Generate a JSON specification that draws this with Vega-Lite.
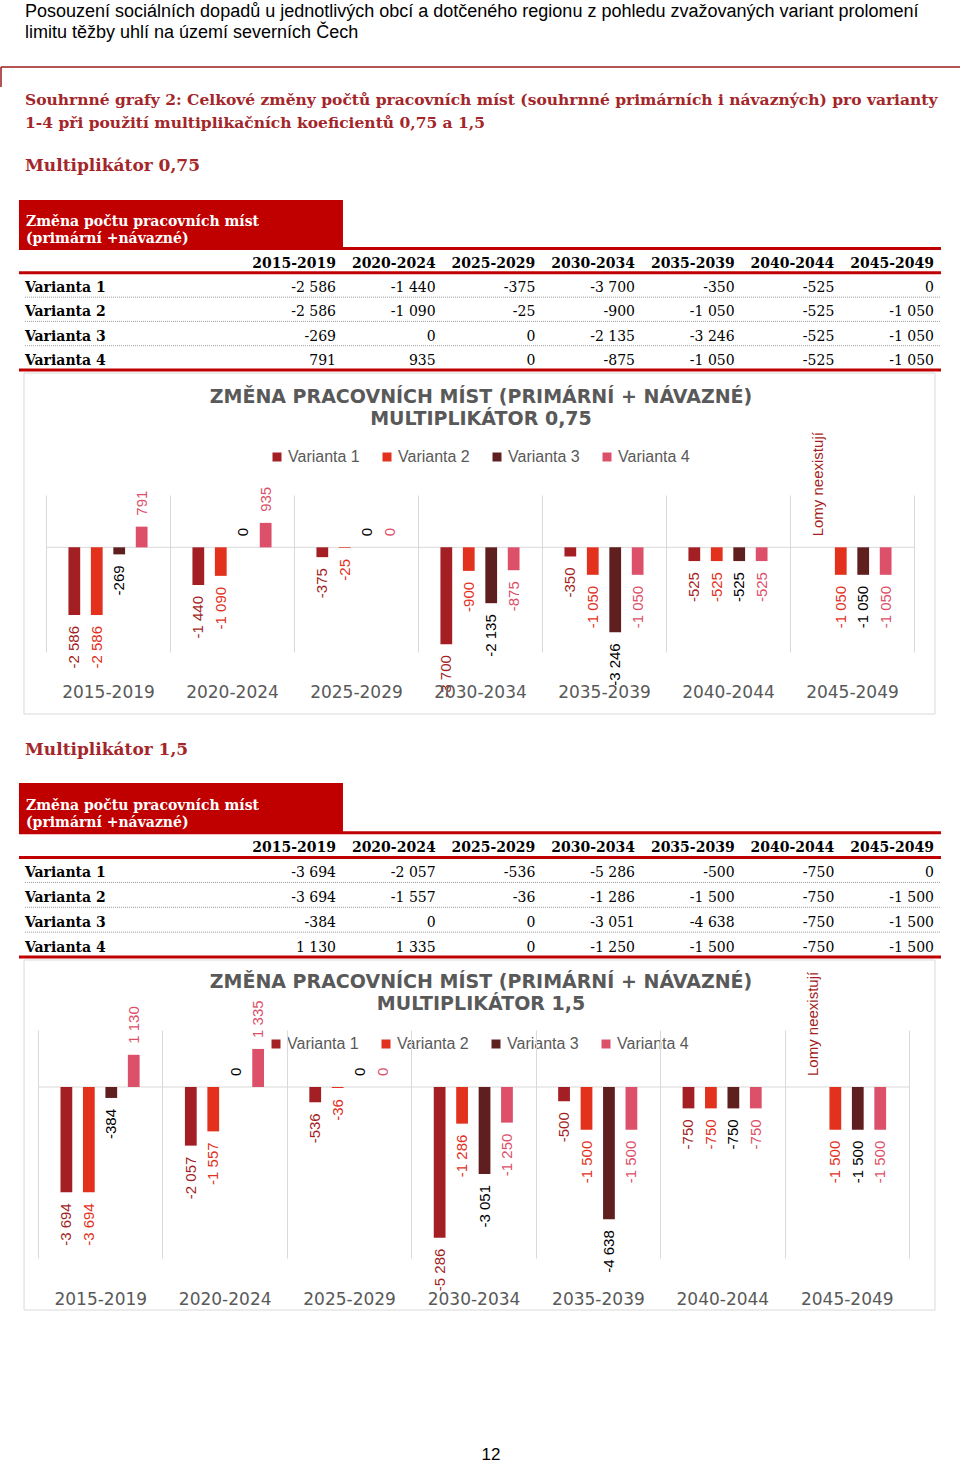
{
  "$schema": "https://vega.github.io/schema/vega-lite/v6.json",
  "padding": {"top": 3, "left": 0, "right": 0, "bottom": 0},
  "bounds": "flush",
  "spacing": 0,
  "config": {
    "view": {"stroke": null},
    "locale": {"number": {"decimal": ",", "thousands": " ", "grouping": [3], "currency": ["", " Kč"], "minus": "-"}},
    "font": "Liberation Sans"
  },
  "datasets": {
    "jobs": [
      {"m": "0,75", "period": "2015-2019", "variant": "Varianta 1", "value": -2586},
      {"m": "0,75", "period": "2020-2024", "variant": "Varianta 1", "value": -1440},
      {"m": "0,75", "period": "2025-2029", "variant": "Varianta 1", "value": -375},
      {"m": "0,75", "period": "2030-2034", "variant": "Varianta 1", "value": -3700},
      {"m": "0,75", "period": "2035-2039", "variant": "Varianta 1", "value": -350},
      {"m": "0,75", "period": "2040-2044", "variant": "Varianta 1", "value": -525},
      {"m": "0,75", "period": "2045-2049", "variant": "Varianta 1", "value": 0, "note": "Lomy neexistují"},
      {"m": "0,75", "period": "2015-2019", "variant": "Varianta 2", "value": -2586},
      {"m": "0,75", "period": "2020-2024", "variant": "Varianta 2", "value": -1090},
      {"m": "0,75", "period": "2025-2029", "variant": "Varianta 2", "value": -25},
      {"m": "0,75", "period": "2030-2034", "variant": "Varianta 2", "value": -900},
      {"m": "0,75", "period": "2035-2039", "variant": "Varianta 2", "value": -1050},
      {"m": "0,75", "period": "2040-2044", "variant": "Varianta 2", "value": -525},
      {"m": "0,75", "period": "2045-2049", "variant": "Varianta 2", "value": -1050},
      {"m": "0,75", "period": "2015-2019", "variant": "Varianta 3", "value": -269},
      {"m": "0,75", "period": "2020-2024", "variant": "Varianta 3", "value": 0},
      {"m": "0,75", "period": "2025-2029", "variant": "Varianta 3", "value": 0},
      {"m": "0,75", "period": "2030-2034", "variant": "Varianta 3", "value": -2135},
      {"m": "0,75", "period": "2035-2039", "variant": "Varianta 3", "value": -3246},
      {"m": "0,75", "period": "2040-2044", "variant": "Varianta 3", "value": -525},
      {"m": "0,75", "period": "2045-2049", "variant": "Varianta 3", "value": -1050},
      {"m": "0,75", "period": "2015-2019", "variant": "Varianta 4", "value": 791},
      {"m": "0,75", "period": "2020-2024", "variant": "Varianta 4", "value": 935},
      {"m": "0,75", "period": "2025-2029", "variant": "Varianta 4", "value": 0},
      {"m": "0,75", "period": "2030-2034", "variant": "Varianta 4", "value": -875},
      {"m": "0,75", "period": "2035-2039", "variant": "Varianta 4", "value": -1050},
      {"m": "0,75", "period": "2040-2044", "variant": "Varianta 4", "value": -525},
      {"m": "0,75", "period": "2045-2049", "variant": "Varianta 4", "value": -1050},
      {"m": "1,5", "period": "2015-2019", "variant": "Varianta 1", "value": -3694},
      {"m": "1,5", "period": "2020-2024", "variant": "Varianta 1", "value": -2057},
      {"m": "1,5", "period": "2025-2029", "variant": "Varianta 1", "value": -536},
      {"m": "1,5", "period": "2030-2034", "variant": "Varianta 1", "value": -5286},
      {"m": "1,5", "period": "2035-2039", "variant": "Varianta 1", "value": -500},
      {"m": "1,5", "period": "2040-2044", "variant": "Varianta 1", "value": -750},
      {"m": "1,5", "period": "2045-2049", "variant": "Varianta 1", "value": 0, "note": "Lomy neexistují"},
      {"m": "1,5", "period": "2015-2019", "variant": "Varianta 2", "value": -3694},
      {"m": "1,5", "period": "2020-2024", "variant": "Varianta 2", "value": -1557},
      {"m": "1,5", "period": "2025-2029", "variant": "Varianta 2", "value": -36},
      {"m": "1,5", "period": "2030-2034", "variant": "Varianta 2", "value": -1286},
      {"m": "1,5", "period": "2035-2039", "variant": "Varianta 2", "value": -1500},
      {"m": "1,5", "period": "2040-2044", "variant": "Varianta 2", "value": -750},
      {"m": "1,5", "period": "2045-2049", "variant": "Varianta 2", "value": -1500},
      {"m": "1,5", "period": "2015-2019", "variant": "Varianta 3", "value": -384},
      {"m": "1,5", "period": "2020-2024", "variant": "Varianta 3", "value": 0},
      {"m": "1,5", "period": "2025-2029", "variant": "Varianta 3", "value": 0},
      {"m": "1,5", "period": "2030-2034", "variant": "Varianta 3", "value": -3051},
      {"m": "1,5", "period": "2035-2039", "variant": "Varianta 3", "value": -4638},
      {"m": "1,5", "period": "2040-2044", "variant": "Varianta 3", "value": -750},
      {"m": "1,5", "period": "2045-2049", "variant": "Varianta 3", "value": -1500},
      {"m": "1,5", "period": "2015-2019", "variant": "Varianta 4", "value": 1130},
      {"m": "1,5", "period": "2020-2024", "variant": "Varianta 4", "value": 1335},
      {"m": "1,5", "period": "2025-2029", "variant": "Varianta 4", "value": 0},
      {"m": "1,5", "period": "2030-2034", "variant": "Varianta 4", "value": -1250},
      {"m": "1,5", "period": "2035-2039", "variant": "Varianta 4", "value": -1500},
      {"m": "1,5", "period": "2040-2044", "variant": "Varianta 4", "value": -750},
      {"m": "1,5", "period": "2045-2049", "variant": "Varianta 4", "value": -1500}
    ]
  },
  "vconcat": [
    {
      "width": 960, "height": 133,
      "title": {"text": ["Posouzení sociálních dopadů u jednotlivých obcí a dotčeného regionu z pohledu zvažovaných variant prolomení", "limitu těžby uhlí na území severních Čech"], "anchor": "start", "frame": "group", "dx": 24, "offset": 24, "font": "Liberation Sans", "fontSize": 18, "fontWeight": "normal", "color": "#000000", "lineHeight": 21},
      "data": {"values": [{}]},
      "layer": [
        {"mark": {"type": "rule", "color": "#9B1C1C", "strokeWidth": 1.5},
         "encoding": {"y": {"datum": 1, "scale": {"domain": [0, 1]}, "axis": null}}},
        {"mark": {"type": "rule", "color": "#9B1C1C", "strokeWidth": 1.5},
         "encoding": {"x": {"datum": 0, "scale": {"domain": [0, 1]}, "axis": null}, "y": {"datum": 1, "scale": {"domain": [0, 1]}, "axis": null}, "y2": {"datum": 0.85}}}
      ]
    },
    {
      "width": 960, "height": 170,
      "title": {"text": ["Souhrnné grafy 2: Celkové změny počtů pracovních míst (souhrnné primárních i návazných) pro varianty", "1-4 při použití multiplikačních koeficientů 0,75 a 1,5"], "subtitle": "Multiplikátor 0,75", "anchor": "start", "frame": "group", "dx": 24, "offset": 26, "font": "DejaVu Serif", "fontSize": 15.5, "fontWeight": "bold", "color": "#A3262A", "lineHeight": 23, "subtitleFont": "DejaVu Serif", "subtitleFontSize": 17, "subtitleFontWeight": "bold", "subtitleColor": "#A3262A", "subtitlePadding": 27},
      "layer": [
        {"data": {"values": [{}]},
         "mark": {"type": "rect", "color": "#C00000", "xOffset": -18, "x2Offset": 7},
         "encoding": {
           "x": {"datum": "_lbl", "bandPosition": 0, "scale": {"type": "band", "domain": ["_lbl", "_lbl2", "2015-2019", "2020-2024", "2025-2029", "2030-2034", "2035-2039", "2040-2044", "2045-2049"], "paddingInner": 0, "paddingOuter": 0.316, "align": 0.571}, "axis": null},
           "x2": {"datum": "2015-2019", "bandPosition": 1},
           "y": {"datum": "t1", "bandPosition": 0, "scale": {"type": "band", "domain": ["t1", "t2", "hdr", "Varianta 1", "Varianta 2", "Varianta 3", "Varianta 4"], "paddingInner": 0, "paddingOuter": 0}, "axis": null},
           "y2": {"datum": "t2", "bandPosition": 1}}},
        {"data": {"values": [{}]},
         "mark": {"type": "rule", "color": "#C00000", "strokeWidth": 3, "xOffset": -18, "x2Offset": 7},
         "encoding": {"x": {"datum": "_lbl", "bandPosition": 0}, "x2": {"datum": "2045-2049", "bandPosition": 1}, "y": {"datum": "hdr", "bandPosition": 0}}},
        {"data": {"values": [{}]},
         "mark": {"type": "text", "text": ["Změna počtu pracovních míst", "(primární +návazné)"], "font": "DejaVu Serif", "fontSize": 14, "fontWeight": "bold", "color": "#FFFFFF", "align": "left", "baseline": "middle", "dx": -11, "dy": -2, "lineHeight": 17},
         "encoding": {"x": {"datum": "_lbl", "bandPosition": 0}, "y": {"datum": "t2", "bandPosition": 0}}},
        {"data": {"values": [{}]},
         "mark": {"type": "rule", "color": "#C00000", "strokeWidth": 3, "xOffset": -18, "x2Offset": 7},
         "encoding": {"x": {"datum": "_lbl", "bandPosition": 0}, "x2": {"datum": "2045-2049", "bandPosition": 1}, "y": {"datum": "Varianta 1", "bandPosition": 0}}},
        {"data": {"values": [{}]},
         "mark": {"type": "rule", "color": "#C00000", "strokeWidth": 3, "xOffset": -18, "x2Offset": 7},
         "encoding": {"x": {"datum": "_lbl", "bandPosition": 0}, "x2": {"datum": "2045-2049", "bandPosition": 1}, "y": {"datum": "Varianta 4", "bandPosition": 1}}},
        {"data": {"name": "jobs"},
         "transform": [{"filter": "datum.m == '0,75' && datum.period == '2015-2019' && datum.variant != 'Varianta 1'"}],
         "mark": {"type": "rule", "color": "#9A9A9A", "strokeWidth": 1, "strokeDash": [1, 1], "xOffset": -12, "x2Offset": 7},
         "encoding": {"x": {"datum": "_lbl", "bandPosition": 0}, "x2": {"datum": "2045-2049", "bandPosition": 1}, "y": {"field": "variant", "bandPosition": 0}}},
        {"data": {"name": "jobs"},
         "transform": [{"filter": "datum.m == '0,75' && datum.variant == 'Varianta 1'"}],
         "mark": {"type": "text", "font": "DejaVu Serif", "fontSize": 14, "fontWeight": "bold", "color": "#000000", "align": "right", "baseline": "middle", "dy": 3},
         "encoding": {"x": {"field": "period", "bandPosition": 1}, "y": {"datum": "hdr"}, "text": {"field": "period"}}},
        {"data": {"name": "jobs"},
         "transform": [{"filter": "datum.m == '0,75'"}],
         "mark": {"type": "text", "font": "DejaVu Serif", "fontSize": 14, "color": "#000000", "align": "right", "baseline": "middle", "dy": 3},
         "encoding": {"x": {"field": "period", "bandPosition": 1}, "y": {"field": "variant"}, "text": {"field": "value", "type": "quantitative", "format": ",d"}}},
        {"data": {"name": "jobs"},
         "transform": [{"filter": "datum.m == '0,75' && datum.period == '2015-2019'"}],
         "mark": {"type": "text", "font": "DejaVu Serif", "fontSize": 14, "fontWeight": "bold", "color": "#000000", "align": "left", "baseline": "middle", "dx": -12, "dy": 3},
         "encoding": {"x": {"datum": "_lbl", "bandPosition": 0}, "y": {"field": "variant"}, "text": {"field": "variant"}}}
      ]
    },
    {
      "width": 960, "height": 125,
      "data": {"values": []},
      "mark": "point"
    },
    {
      "width": 960, "height": 157,
      "title": {"text": ["ZMĚNA PRACOVNÍCH MÍST (PRIMÁRNÍ + NÁVAZNÉ)", "MULTIPLIKÁTOR 0,75"], "anchor": "middle", "frame": "group", "offset": -56, "font": "DejaVu Sans", "fontSize": 19, "fontWeight": "bold", "color": "#595959", "lineHeight": 22},
      "data": {"name": "jobs"},
      "transform": [{"filter": "datum.m == '0,75'"}],
      "resolve": {"scale": {"color": "independent"}},
      "layer": [
        {"transform": [{"aggregate": [{"op": "count", "as": "n"}]}],
         "mark": {"type": "rect", "filled": false, "stroke": "#D9D9D9", "strokeWidth": 1, "xOffset": -22, "x2Offset": 21, "yOffset": -122, "y2Offset": 62},
         "encoding": {
           "x": {"datum": "2015-2019", "bandPosition": 0, "scale": {"type": "band", "domain": ["2015-2019", "2020-2024", "2025-2029", "2030-2034", "2035-2039", "2040-2044", "2045-2049"], "paddingInner": 0, "paddingOuter": 0.371, "align": 0.489}},
           "x2": {"datum": "2045-2049", "bandPosition": 1},
           "y": {"datum": 2000, "scale": {"domain": [-4000, 2000], "nice": false}, "axis": null},
           "y2": {"datum": -4000}}},
        {"transform": [{"aggregate": [{"op": "count", "as": "n"}]}],
         "mark": {"type": "rule", "color": "#D9D9D9", "strokeWidth": 1},
         "encoding": {
           "x": {"datum": "2015-2019", "bandPosition": 0},
           "x2": {"datum": "2045-2049", "bandPosition": 1},
           "y": {"datum": 0, "axis": null}}},
        {"mark": {"type": "bar"},
         "encoding": {
           "x": {"field": "period", "type": "nominal", "scale": {"type": "band", "domain": ["2015-2019", "2020-2024", "2025-2029", "2030-2034", "2035-2039", "2040-2044", "2045-2049"], "paddingInner": 0, "paddingOuter": 0.371, "align": 0.489},
                 "axis": {"title": null, "orient": "bottom", "domain": false, "ticks": false, "grid": true, "tickBand": "extent", "gridColor": "#D9D9D9", "labelFont": "DejaVu Sans", "labelFontSize": 17, "labelColor": "#595959", "labelPadding": 40, "labelAngle": 0, "labelAlign": "center"}},
           "xOffset": {"field": "variant", "type": "nominal", "scale": {"type": "band", "domain": ["Varianta 1", "Varianta 2", "Varianta 3", "Varianta 4"], "paddingInner": 0.476, "paddingOuter": 1.19}},
           "y": {"field": "value", "type": "quantitative", "scale": {"domain": [-4000, 2000], "nice": false}, "axis": null},
           "color": {"field": "variant", "type": "nominal", "scale": {"domain": ["Varianta 1", "Varianta 2", "Varianta 3", "Varianta 4"], "range": ["#A31F24", "#E2311D", "#5E1F1E", "#DC5069"]},
                     "legend": {"title": null, "orient": "none", "legendX": 268, "legendY": -46, "direction": "horizontal", "symbolType": "square", "symbolSize": 81, "symbolStrokeWidth": 0, "labelFont": "Liberation Sans", "labelFontSize": 16, "labelColor": "#595959", "labelOffset": 3, "columnPadding": 19, "padding": 0}}}},
        {"transform": [{"filter": "datum.value < 0"}],
         "mark": {"type": "text", "angle": 270, "align": "right", "baseline": "middle", "dx": -11, "font": "Liberation Sans", "fontSize": 15},
         "encoding": {
           "x": {"field": "period", "type": "nominal", "scale": {"type": "band"}},
           "xOffset": {"field": "variant", "type": "nominal", "scale": {"type": "band"}},
           "y": {"field": "value", "type": "quantitative", "axis": null},
           "text": {"field": "value", "type": "quantitative", "format": ",d"},
           "color": {"field": "variant", "type": "nominal", "scale": {"domain": ["Varianta 1", "Varianta 2", "Varianta 3", "Varianta 4"], "range": ["#A31F24", "#E2311D", "#000000", "#DC5069"]}, "legend": null}}},
        {"transform": [{"filter": "datum.value >= 0 && !datum.note"}],
         "mark": {"type": "text", "angle": 270, "align": "left", "baseline": "middle", "dx": 11, "font": "Liberation Sans", "fontSize": 15},
         "encoding": {
           "x": {"field": "period", "type": "nominal", "scale": {"type": "band"}},
           "xOffset": {"field": "variant", "type": "nominal", "scale": {"type": "band"}},
           "y": {"field": "value", "type": "quantitative", "axis": null},
           "text": {"field": "value", "type": "quantitative", "format": ",d"},
           "color": {"field": "variant", "type": "nominal", "scale": {"domain": ["Varianta 1", "Varianta 2", "Varianta 3", "Varianta 4"], "range": ["#A31F24", "#E2311D", "#000000", "#DC5069"]}, "legend": null}}},
        {"transform": [{"filter": "datum.note"}],
         "mark": {"type": "text", "angle": 270, "align": "left", "baseline": "middle", "dx": 11, "font": "Liberation Sans", "fontSize": 15},
         "encoding": {
           "x": {"field": "period", "type": "nominal", "scale": {"type": "band"}},
           "xOffset": {"field": "variant", "type": "nominal", "scale": {"type": "band"}},
           "y": {"field": "value", "type": "quantitative", "axis": null},
           "text": {"field": "note"},
           "color": {"field": "variant", "type": "nominal", "scale": {"domain": ["Varianta 1", "Varianta 2", "Varianta 3", "Varianta 4"], "range": ["#A31F24", "#E2311D", "#000000", "#DC5069"]}, "legend": null}}}
      ]
    },
    {
      "width": 960, "height": 131,
      "data": {"values": []},
      "mark": "point"
    },
    {
      "width": 960, "height": 174,
      "title": {"text": "Multiplikátor 1,5", "anchor": "start", "frame": "group", "dx": 24, "offset": 24, "font": "DejaVu Serif", "fontSize": 17, "fontWeight": "bold", "color": "#A3262A"},
      "layer": [
        {"data": {"values": [{}]},
         "mark": {"type": "rect", "color": "#C00000", "xOffset": -18, "x2Offset": 7},
         "encoding": {
           "x": {"datum": "_lbl", "bandPosition": 0, "scale": {"type": "band", "domain": ["_lbl", "_lbl2", "2015-2019", "2020-2024", "2025-2029", "2030-2034", "2035-2039", "2040-2044", "2045-2049"], "paddingInner": 0, "paddingOuter": 0.316, "align": 0.571}, "axis": null},
           "x2": {"datum": "2015-2019", "bandPosition": 1},
           "y": {"datum": "t1", "bandPosition": 0, "scale": {"type": "band", "domain": ["t1", "t2", "hdr", "Varianta 1", "Varianta 2", "Varianta 3", "Varianta 4"], "paddingInner": 0, "paddingOuter": 0}, "axis": null},
           "y2": {"datum": "t2", "bandPosition": 1}}},
        {"data": {"values": [{}]},
         "mark": {"type": "rule", "color": "#C00000", "strokeWidth": 3, "xOffset": -18, "x2Offset": 7},
         "encoding": {"x": {"datum": "_lbl", "bandPosition": 0}, "x2": {"datum": "2045-2049", "bandPosition": 1}, "y": {"datum": "hdr", "bandPosition": 0}}},
        {"data": {"values": [{}]},
         "mark": {"type": "text", "text": ["Změna počtu pracovních míst", "(primární +návazné)"], "font": "DejaVu Serif", "fontSize": 14, "fontWeight": "bold", "color": "#FFFFFF", "align": "left", "baseline": "middle", "dx": -11, "dy": -2, "lineHeight": 17},
         "encoding": {"x": {"datum": "_lbl", "bandPosition": 0}, "y": {"datum": "t2", "bandPosition": 0}}},
        {"data": {"values": [{}]},
         "mark": {"type": "rule", "color": "#C00000", "strokeWidth": 3, "xOffset": -18, "x2Offset": 7},
         "encoding": {"x": {"datum": "_lbl", "bandPosition": 0}, "x2": {"datum": "2045-2049", "bandPosition": 1}, "y": {"datum": "Varianta 1", "bandPosition": 0}}},
        {"data": {"values": [{}]},
         "mark": {"type": "rule", "color": "#C00000", "strokeWidth": 3, "xOffset": -18, "x2Offset": 7},
         "encoding": {"x": {"datum": "_lbl", "bandPosition": 0}, "x2": {"datum": "2045-2049", "bandPosition": 1}, "y": {"datum": "Varianta 4", "bandPosition": 1}}},
        {"data": {"name": "jobs"},
         "transform": [{"filter": "datum.m == '1,5' && datum.period == '2015-2019' && datum.variant != 'Varianta 1'"}],
         "mark": {"type": "rule", "color": "#9A9A9A", "strokeWidth": 1, "strokeDash": [1, 1], "xOffset": -12, "x2Offset": 7},
         "encoding": {"x": {"datum": "_lbl", "bandPosition": 0}, "x2": {"datum": "2045-2049", "bandPosition": 1}, "y": {"field": "variant", "bandPosition": 0}}},
        {"data": {"name": "jobs"},
         "transform": [{"filter": "datum.m == '1,5' && datum.variant == 'Varianta 1'"}],
         "mark": {"type": "text", "font": "DejaVu Serif", "fontSize": 14, "fontWeight": "bold", "color": "#000000", "align": "right", "baseline": "middle", "dy": 3},
         "encoding": {"x": {"field": "period", "bandPosition": 1}, "y": {"datum": "hdr"}, "text": {"field": "period"}}},
        {"data": {"name": "jobs"},
         "transform": [{"filter": "datum.m == '1,5'"}],
         "mark": {"type": "text", "font": "DejaVu Serif", "fontSize": 14, "color": "#000000", "align": "right", "baseline": "middle", "dy": 3},
         "encoding": {"x": {"field": "period", "bandPosition": 1}, "y": {"field": "variant"}, "text": {"field": "value", "type": "quantitative", "format": ",d"}}},
        {"data": {"name": "jobs"},
         "transform": [{"filter": "datum.m == '1,5' && datum.period == '2015-2019'"}],
         "mark": {"type": "text", "font": "DejaVu Serif", "fontSize": 14, "fontWeight": "bold", "color": "#000000", "align": "left", "baseline": "middle", "dx": -12, "dy": 3},
         "encoding": {"x": {"datum": "_lbl", "bandPosition": 0}, "y": {"field": "variant"}, "text": {"field": "variant"}}}
      ]
    },
    {
      "width": 960, "height": 73,
      "data": {"values": []},
      "mark": "point"
    },
    {
      "width": 960, "height": 228,
      "title": {"text": ["ZMĚNA PRACOVNÍCH MÍST (PRIMÁRNÍ + NÁVAZNÉ)", "MULTIPLIKÁTOR 1,5"], "anchor": "middle", "frame": "group", "offset": -54, "font": "DejaVu Sans", "fontSize": 19, "fontWeight": "bold", "color": "#595959", "lineHeight": 22},
      "data": {"name": "jobs"},
      "transform": [{"filter": "datum.m == '1,5'"}],
      "resolve": {"scale": {"color": "independent"}},
      "layer": [
        {"transform": [{"aggregate": [{"op": "count", "as": "n"}]}],
         "mark": {"type": "rect", "filled": false, "stroke": "#D9D9D9", "strokeWidth": 1, "xOffset": -14, "x2Offset": 26, "yOffset": -70, "y2Offset": 52},
         "encoding": {
           "x": {"datum": "2015-2019", "bandPosition": 0, "scale": {"type": "band", "domain": ["2015-2019", "2020-2024", "2025-2029", "2030-2034", "2035-2039", "2040-2044", "2045-2049"], "paddingInner": 0, "paddingOuter": 0.358, "align": 0.416}},
           "x2": {"datum": "2045-2049", "bandPosition": 1},
           "y": {"datum": 2000, "scale": {"domain": [-6000, 2000], "nice": false}, "axis": null},
           "y2": {"datum": -6000}}},
        {"transform": [{"aggregate": [{"op": "count", "as": "n"}]}],
         "mark": {"type": "rule", "color": "#D9D9D9", "strokeWidth": 1},
         "encoding": {
           "x": {"datum": "2015-2019", "bandPosition": 0},
           "x2": {"datum": "2045-2049", "bandPosition": 1},
           "y": {"datum": 0, "axis": null}}},
        {"mark": {"type": "bar"},
         "encoding": {
           "x": {"field": "period", "type": "nominal", "scale": {"type": "band", "domain": ["2015-2019", "2020-2024", "2025-2029", "2030-2034", "2035-2039", "2040-2044", "2045-2049"], "paddingInner": 0, "paddingOuter": 0.358, "align": 0.416},
                 "axis": {"title": null, "orient": "bottom", "domain": false, "ticks": false, "grid": true, "tickBand": "extent", "gridColor": "#D9D9D9", "labelFont": "DejaVu Sans", "labelFontSize": 17, "labelColor": "#595959", "labelPadding": 41, "labelAngle": 0, "labelAlign": "center"}},
           "xOffset": {"field": "variant", "type": "nominal", "scale": {"type": "band", "domain": ["Varianta 1", "Varianta 2", "Varianta 3", "Varianta 4"], "paddingInner": 0.476, "paddingOuter": 1.19}},
           "y": {"field": "value", "type": "quantitative", "scale": {"domain": [-6000, 2000], "nice": false}, "axis": null},
           "color": {"field": "variant", "type": "nominal", "scale": {"domain": ["Varianta 1", "Varianta 2", "Varianta 3", "Varianta 4"], "range": ["#A31F24", "#E2311D", "#5E1F1E", "#DC5069"]},
                     "legend": {"title": null, "orient": "none", "legendX": 267, "legendY": 6, "direction": "horizontal", "symbolType": "square", "symbolSize": 81, "symbolStrokeWidth": 0, "labelFont": "Liberation Sans", "labelFontSize": 16, "labelColor": "#595959", "labelOffset": 3, "columnPadding": 19, "padding": 0}}}},
        {"transform": [{"filter": "datum.value < 0"}],
         "mark": {"type": "text", "angle": 270, "align": "right", "baseline": "middle", "dx": -11, "font": "Liberation Sans", "fontSize": 15},
         "encoding": {
           "x": {"field": "period", "type": "nominal", "scale": {"type": "band"}},
           "xOffset": {"field": "variant", "type": "nominal", "scale": {"type": "band"}},
           "y": {"field": "value", "type": "quantitative", "axis": null},
           "text": {"field": "value", "type": "quantitative", "format": ",d"},
           "color": {"field": "variant", "type": "nominal", "scale": {"domain": ["Varianta 1", "Varianta 2", "Varianta 3", "Varianta 4"], "range": ["#A31F24", "#E2311D", "#000000", "#DC5069"]}, "legend": null}}},
        {"transform": [{"filter": "datum.value >= 0 && !datum.note"}],
         "mark": {"type": "text", "angle": 270, "align": "left", "baseline": "middle", "dx": 11, "font": "Liberation Sans", "fontSize": 15},
         "encoding": {
           "x": {"field": "period", "type": "nominal", "scale": {"type": "band"}},
           "xOffset": {"field": "variant", "type": "nominal", "scale": {"type": "band"}},
           "y": {"field": "value", "type": "quantitative", "axis": null},
           "text": {"field": "value", "type": "quantitative", "format": ",d"},
           "color": {"field": "variant", "type": "nominal", "scale": {"domain": ["Varianta 1", "Varianta 2", "Varianta 3", "Varianta 4"], "range": ["#A31F24", "#E2311D", "#000000", "#DC5069"]}, "legend": null}}},
        {"transform": [{"filter": "datum.note"}],
         "mark": {"type": "text", "angle": 270, "align": "left", "baseline": "middle", "dx": 11, "font": "Liberation Sans", "fontSize": 15},
         "encoding": {
           "x": {"field": "period", "type": "nominal", "scale": {"type": "band"}},
           "xOffset": {"field": "variant", "type": "nominal", "scale": {"type": "band"}},
           "y": {"field": "value", "type": "quantitative", "axis": null},
           "text": {"field": "note"},
           "color": {"field": "variant", "type": "nominal", "scale": {"domain": ["Varianta 1", "Varianta 2", "Varianta 3", "Varianta 4"], "range": ["#A31F24", "#E2311D", "#000000", "#DC5069"]}, "legend": null}}}
      ]
    },
    {
      "width": 960, "height": 180,
      "data": {"values": []},
      "mark": "point",
      "title": {"text": "12", "orient": "bottom", "anchor": "middle", "frame": "group", "dx": 10, "offset": 9, "font": "Liberation Sans", "fontSize": 17, "fontWeight": "normal", "color": "#000000"}
    }
  ]
}
